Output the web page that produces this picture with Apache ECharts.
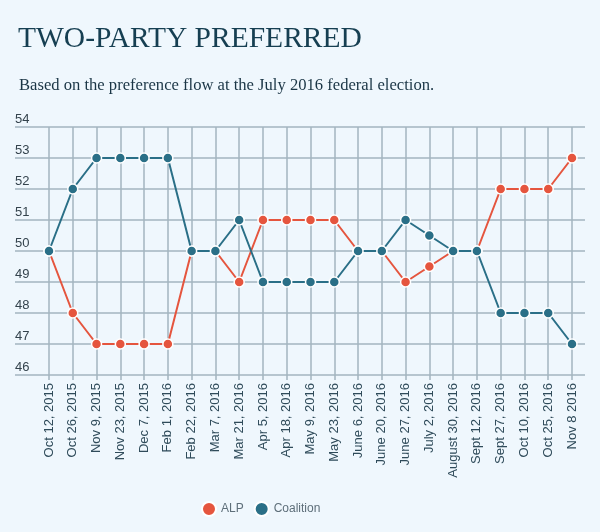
<!DOCTYPE html>
<html lang="en">
<head>
    <meta charset="UTF-8">
    <title>Two-party preferred</title>
    <script src="https://cdn.jsdelivr.net/npm/echarts@6/dist/echarts.min.js"></script>
    <style>
        html, body { margin: 0; padding: 0; background: #eff7fd; }
    </style>
</head>
<body>
<div id="main" style="width: 600px;height: 532px;"></div>
<script>
    // poll dates (x axis)
    var dates = ['Oct 12, 2015', 'Oct 26, 2015', 'Nov 9, 2015', 'Nov 23, 2015', 'Dec 7, 2015',
        'Feb 1, 2016', 'Feb 22, 2016', 'Mar 7, 2016', 'Mar 21, 2016', 'Apr 5, 2016',
        'Apr 18, 2016', 'May 9, 2016', 'May 23, 2016', 'June 6, 2016', 'June 20, 2016',
        'June 27, 2016', 'July 2, 2016', 'August 30, 2016', 'Sept 12, 2016', 'Sept 27, 2016',
        'Oct 10, 2016', 'Oct 25, 2016', 'Nov 8 2016'];
    var alp = [50, 48, 47, 47, 47, 47, 50, 50, 49, 51, 51, 51, 51, 50, 50, 49, 49.5, 50, 50, 52, 52, 52, 53];
    var coalition = [50, 52, 53, 53, 53, 53, 50, 50, 51, 49, 49, 49, 49, 50, 50, 51, 50.5, 50, 50, 48, 48, 48, 47];
    var yMin = 46, yMax = 54;

    var gridColor = '#a3b4bf';
    var myChart = echarts.init(document.getElementById('main'));

    function lineSeries(name, data, color) {
        return {
            name: name,
            type: 'line',
            data: data,
            xAxisIndex: 0,
            yAxisIndex: 0,
            symbol: 'circle',
            symbolSize: 10,
            lineStyle: { color: color, width: 2 },
            itemStyle: { color: color, borderColor: '#ffffff', borderWidth: 1.5 },
            emphasis: { disabled: true },
            z: name == 'ALP' ? 3 : 4
        };
    }

    var option = {
        backgroundColor: '#eff7fd',
        animation: false,
        title: [{
            text: 'TWO-PARTY PREFERRED',
            left: 13,
            top: 19,
            textStyle: { fontFamily: 'Liberation Serif', fontWeight: 'normal', fontSize: 29.5, color: '#163f52' }
        }, {
            text: 'Based on the preference flow at the July 2016 federal election.',
            left: 14,
            top: 72,
            textStyle: { fontFamily: 'Liberation Serif', fontWeight: 'normal', fontSize: 16.6, color: '#1a3545' }
        }],
        legend: {
            data: ['ALP', 'Coalition'],
            left: 196,
            top: 496,
            icon: 'circle',
            itemWidth: 14,
            itemHeight: 14,
            itemGap: 10,
            itemTextGap: 6,
            textStyle: { fontFamily: 'Liberation Sans', fontSize: 12, color: '#5e6f7a' }
        },
        grid: [
            { left: 49, right: 28, top: 127, bottom: 157 },   // data area
            { left: 15, right: 15, top: 127, bottom: 157 }    // wider horizontal lines
        ],
        xAxis: [{
            type: 'category',
            gridIndex: 0,
            data: dates,
            boundaryGap: false,
            axisLine: { show: false },
            axisTick: { show: true, length: 5, lineStyle: { color: gridColor, width: 1.5 } },
            splitLine: { show: true, lineStyle: { color: gridColor, width: 1.5 } },
            axisLabel: {
                rotate: 90,
                interval: 0,
                margin: 8,
                fontFamily: 'Liberation Sans',
                fontSize: 13,
                color: '#2f4b5a'
            }
        }, {
            type: 'value',
            gridIndex: 1,
            show: false
        }],
        yAxis: [{
            type: 'value',
            gridIndex: 0,
            min: yMin,
            max: yMax,
            interval: 1,
            axisLine: { show: false },
            axisTick: { show: false },
            axisLabel: { show: false },
            splitLine: { show: false }
        }, {
            type: 'value',
            gridIndex: 1,
            min: yMin,
            max: yMax,
            interval: 1,
            axisLine: { show: false },
            axisTick: { show: false },
            splitLine: { show: true, lineStyle: { color: gridColor, width: 1.5 } },
            axisLabel: {
                inside: true,
                margin: 0,
                verticalAlign: 'bottom',
                padding: [0, 0, 1, 0],
                fontFamily: 'Liberation Sans',
                fontSize: 13,
                color: '#34434d'
            }
        }],
        series: [
            lineSeries('ALP', alp, '#e5553e'),
            lineSeries('Coalition', coalition, '#2a6f87')
        ]
    };

    myChart.setOption(option, true);
</script>
</body>
</html>
